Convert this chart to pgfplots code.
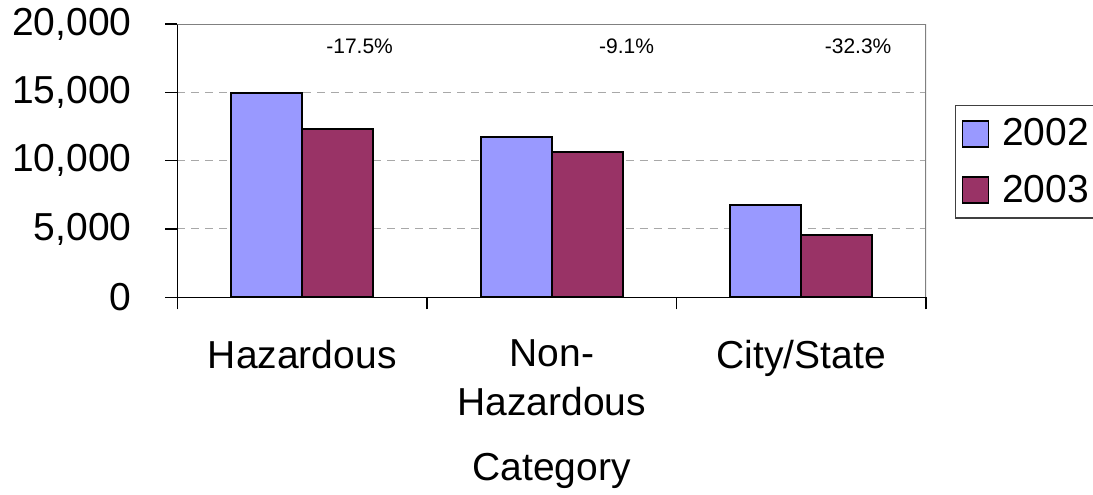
\documentclass[border=0pt]{standalone}
\usepackage{pgfplots}
\usepackage{pgfplotstable}
\pgfplotsset{compat=1.18}
\usepackage{fontspec}
\setmainfont{Liberation Sans}
\definecolor{c2002}{HTML}{9999FF}
\definecolor{c2003}{HTML}{993366}
\definecolor{gridc}{HTML}{A8A8A8}
\pgfplotstableread{
x y2002 y2003
0 14930 12320
1 11710 10640
2 6750 4570
}\datatable
\begin{document}
\begin{tikzpicture}
\begin{axis}[
 scale only axis, width=374.25pt, height=136.65pt,
 xmin=-0.5, xmax=2.5, ymin=0, ymax=20000,
 axis lines*=left,
 axis line style={black, line width=0.6pt},
 ybar=0pt, bar width=0.284,
 ytick={0,5000,10000,15000,20000},
 scaled y ticks=false,
 yticklabel style={/pgf/number format/.cd,1000 sep={,},assume math mode=true, /tikz/.cd, xshift=-13.5pt},
 tick align=outside, major tick length=6pt,
 tick style={black, line width=0.6pt},
 xtick={-0.5,0.5,1.5,2.5}, xticklabels={,,,},
 extra x ticks={0,1,2},
 extra x tick labels={Hazardous,{Non-\\Hazardous},City/State},
 extra x tick style={major tick length=0pt, grid=none, xticklabel style={align=center, anchor=north, inner ysep=0pt, yshift=-21.2pt}},
 ymajorgrids, major grid style={gridc, dash pattern=on 4pt off 3pt, line width=0.5pt},
 ticklabel style={font=\fontsize{19.5}{24.5}\selectfont},
 xlabel={Category},
 xlabel style={font=\fontsize{19.5}{24}\selectfont, at={(axis description cs:0.5,0)}, anchor=base, yshift=-91.5pt},
 legend style={at={(1.0387,0.7036)}, anchor=north west, draw=black!75, line width=0.6pt,
   font=\fontsize{19.5}{24}\selectfont, inner xsep=3pt, inner ysep=0pt, row sep=0pt, column sep=4pt,
   nodes={inner xsep=2.5pt, inner ysep=6.5pt}},
 legend cell align=left,
 legend image code/.code={\draw[#1, line width=0.8pt] (0pt,-6.5pt) rectangle (13pt,6.5pt);},
]
\addplot[fill=c2002, draw=black, line width=1pt] table[x=x,y=y2002]{\datatable};
\addplot[fill=c2003, draw=black, line width=1pt] table[x=x,y=y2003]{\datatable};
\legend{2002\hspace{12pt},2003\hspace{12pt}}
\draw[gray, line width=0.6pt] (rel axis cs:0,1) -- (rel axis cs:1,1) -- (rel axis cs:1,0);
\node[font=\fontsize{10.5}{12}\selectfont] at (axis cs:0.23,18400) {-17.5\%};
\node[font=\fontsize{10.5}{12}\selectfont] at (axis cs:1.3,18400) {-9.1\%};
\node[font=\fontsize{10.5}{12}\selectfont] at (axis cs:2.228,18400) {-32.3\%};
\end{axis}
\pgfresetboundingbox
\path (-88.75pt,-98.35pt) rectangle (457.75pt,148.65pt);
\end{tikzpicture}
\end{document}
